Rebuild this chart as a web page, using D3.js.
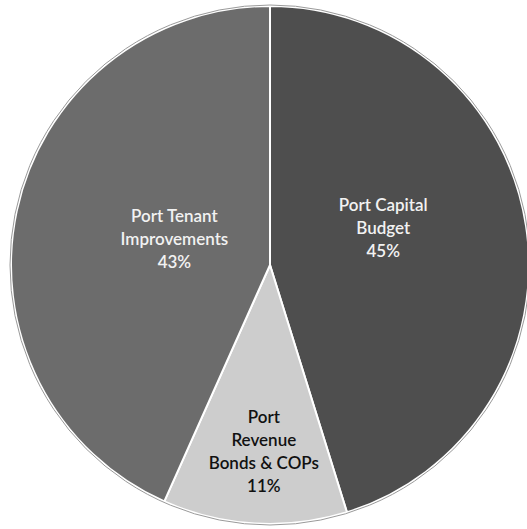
<!DOCTYPE html>
<html>
<head>
<meta charset="utf-8">
<script src="https://cdn.jsdelivr.net/npm/d3@7"></script>
<style>
  html, body { margin: 0; padding: 0; background: #ffffff; }
  svg { display: block; }
</style>
</head>
<body>
<svg id="chart" width="527" height="529"></svg>
<script>
// ---- data ----
const categories = ["Port Capital Budget", "Port Revenue Bonds & COPs", "Port Tenant Improvements"];
const labelLines = [["Port Capital", "Budget"], ["Port", "Revenue", "Bonds & COPs"], ["Port Tenant", "Improvements"]];
const shares = [45.2, 11.49, 43.31];
const colors = ["#4e4e4e", "#cdcdcd", "#6c6c6c"];
const textColors = ["#f2f2f2", "#111111", "#f2f2f2"];

// ---- layout ----
const width = 527, height = 529;
const cx = 270, cy = 265, radius = 259;
// label placement (radius, angle shift in degrees) per slice
const labelPlace = [{ r: 119, shift: -9.3 }, { r: 187, shift: -1.5 }, { r: 99, shift: 3 }];

const svg = d3.select("#chart");
const g = svg.append("g").attr("transform", `translate(${cx},${cy})`);

const data = categories.map((c, i) => ({ name: c, value: shares[i], i }));
const total = d3.sum(shares);

const pie = d3.pie().value(d => d.value).sort(null).startAngle(0).endAngle(2 * Math.PI);
const arc = d3.arc().innerRadius(0).outerRadius(radius);
const arcs = pie(data);

g.selectAll("path.slice")
  .data(arcs)
  .join("path")
  .attr("class", "slice")
  .attr("d", arc)
  .attr("fill", d => colors[d.data.i])
  .attr("stroke", "#ffffff")
  .attr("stroke-width", 2)
  .attr("stroke-linejoin", "round");

// faint outer outline
g.append("circle")
  .attr("r", radius + 1)
  .attr("fill", "none")
  .attr("stroke", "#9a9a9a")
  .attr("stroke-width", 1);

const lineH = 23;
g.selectAll("text.lbl")
  .data(arcs)
  .join("text")
  .attr("class", "lbl")
  .attr("text-anchor", "middle")
  .attr("font-family", "Lato, 'Open Sans', sans-serif")
  .attr("font-size", 17)
  .attr("font-weight", 600)
  .attr("fill", d => textColors[d.data.i])
  .each(function (d) {
    const p = labelPlace[d.data.i];
    const mid = (d.startAngle + d.endAngle) / 2 + p.shift * Math.PI / 180;
    const x = p.r * Math.sin(mid);
    const y = -p.r * Math.cos(mid);
    const lines = labelLines[d.data.i].concat([Math.round(d.data.value / total * 100) + "%"]);
    const n = lines.length;
    const t = d3.select(this);
    lines.forEach((ln, k) => {
      t.append("tspan")
        .attr("x", x)
        .attr("y", y + (k - (n - 1) / 2) * lineH)
        .attr("dy", "0.35em")
        .text(ln);
    });
  });
</script>
</body>
</html>
